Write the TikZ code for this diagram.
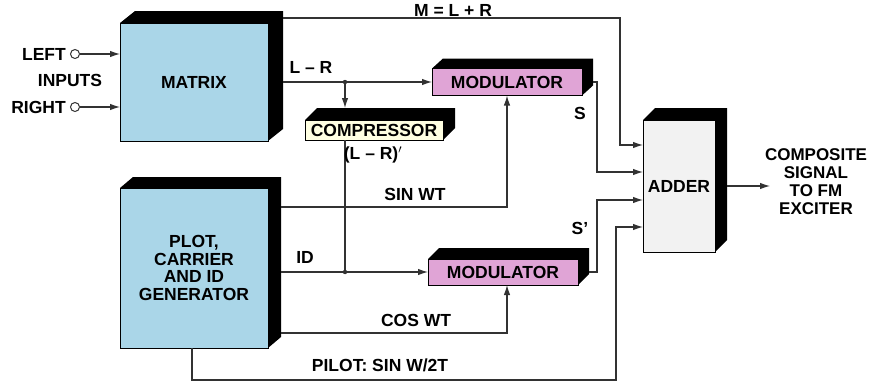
\documentclass[tikz,border=0pt]{standalone}
\usepackage{fontspec}
\setmainfont{Liberation Sans}
\usetikzlibrary{arrows.meta,calc,backgrounds}
\definecolor{blueface}{RGB}{170,214,232}
\definecolor{pinkface}{RGB}{224,164,214}
\definecolor{yelface}{RGB}{255,255,226}
\definecolor{greyface}{RGB}{242,242,242}
\definecolor{wire}{RGB}{50,50,50}
\newcommand\boxthreed[3]{%
  \fill[black] (#1.north west) -- ++(#2,-#3) -- ($(#1.north east)+(#2,-#3)$)
    -- ($(#1.south east)+(#2,-#3)$) -- (#1.south east) -- cycle;}
\begin{document}
\begin{tikzpicture}[x=1pt,y=-1pt,
  every node/.style={font=\bfseries\fontsize{17.5}{17.5}\selectfont},
  face/.style={draw=black, line width=0.8pt, inner sep=0pt, outer sep=0pt, align=center},
  lbl/.style={inner sep=0pt, align=center},
  wirel/.style={draw=wire, line width=1.1pt},
  arr/.style={wirel, -{Latex[length=10pt,width=6.5pt]}},
  incirc/.style={circle, draw=wire, line width=1pt, minimum size=9pt, inner sep=0pt}]
\useasboundingbox (0,0) rectangle (875,389);
% boxes
\node[face, fill=blueface, minimum width=148pt, minimum height=118pt] (matrix) at (194,82) {MATRIX};
\node[face, fill=blueface, minimum width=148pt, minimum height=160pt] (gen) at (194,268) {PLOT,\\CARRIER\\AND ID\\GENERATOR};
\node[face, fill=pinkface, minimum width=150pt, minimum height=27pt] (mod1) at (507,82) {MODULATOR};
\node[face, fill=pinkface, minimum width=150pt, minimum height=26pt] (mod2) at (503,272) {MODULATOR};
\node[face, fill=yelface, minimum width=138pt, minimum height=20pt] (comp) at (374,130) {COMPRESSOR};
\node[face, fill=greyface, minimum width=72pt, minimum height=132pt] (adder) at (679,186) {ADDER};
\begin{scope}[on background layer]
  \boxthreed{matrix}{15}{12}
  \boxthreed{gen}{13}{11}
  \boxthreed{mod1}{11}{10}
  \boxthreed{mod2}{11}{11}
  \boxthreed{comp}{12}{12}
  \boxthreed{adder}{12}{12}
\end{scope}
% inputs
\node[incirc] (lin) at (75,54) {};
\node[incirc] (rin) at (75,107) {};
\node[lbl, anchor=east] (lefttxt) at (66,54) {LEFT};
\node[lbl, anchor=east] (righttxt) at (66,107) {RIGHT};
\node[lbl] (inputs) at (70,80) {INPUTS};
\draw[arr] (lin.east) -- (matrix.west |- lin);
\draw[arr] (rin.east) -- (matrix.west |- rin);
% coordinates
\coordinate (mstart) at ([xshift=15pt]matrix.east |- 0,18);
\coordinate (j1) at (345,82);
\coordinate (j2) at (345,272);
\coordinate (comptop) at ([yshift=12pt]comp.north);
\coordinate (g1) at ([xshift=13pt]gen.east |- 0,207);
\coordinate (g2) at ([xshift=13pt]gen.east |- 0,272);
\coordinate (g3) at ([xshift=13pt]gen.east |- 0,333);
\coordinate (a1) at (adder.west |- 0,145);
\coordinate (a2) at (adder.west |- 0,172);
\coordinate (a3) at (adder.west |- 0,200);
\coordinate (a4) at (adder.west |- 0,227);
\coordinate (mbend) at (620,18);
\coordinate (sbus) at (597,0);
\coordinate (pbend) at (616,380);
\coordinate (outend) at (770,186);
% connectors
\draw[arr] (mstart) -| (mbend |- a1) -- (a1);
\draw[arr] ([xshift=15pt]matrix.east) -- (mod1.west);
\draw[arr] (j1) -- (j1 |- comptop);
\draw[wirel] (comp.south -| j1) -- (j2);
\draw[arr] (g1) -| (mod1.south);
\draw[arr] (g2) -- (mod2.west);
\draw[arr] (g3) -| ([xshift=4pt]mod2.south);
\draw[arr] (gen.south -| 192,0) -- (pbend -| 192,0) -- (pbend) -- (pbend |- a4) -- (a4);
\draw[arr] ([xshift=11pt]mod1.east) -- (sbus |- mod1.east) |- (a2);
\draw[arr] ([xshift=11pt]mod2.east) -- (sbus |- mod2.east) |- (a3);
\draw[arr] ([xshift=12pt]adder.east) -- (outend);
\fill[wire] (j1) circle (2.2pt);
\fill[wire] (j2) circle (2.2pt);
% labels
\node[lbl] (mlbl) at (453,10) {M = L + R};
\node[lbl] (lrlbl) at (311,67) {L – R};
\node[lbl] (lrplbl) at (373,155) {(L – R)$'$};
\node[lbl] (sinlbl) at (415,194) {SIN WT};
\node[lbl] (idlbl) at (305,257) {ID};
\node[lbl] (coslbl) at (416,320) {COS WT};
\node[lbl] (pillbl) at (380,365) {PILOT: SIN W/2T};
\node[lbl] (slbl) at (580,113) {S};
\node[lbl] (splbl) at (580,228) {S'};
\node[lbl, font=\bfseries\fontsize{17}{18}\selectfont] (outlbl) at (816,182) {COMPOSITE\\SIGNAL\\TO FM\\EXCITER};
\end{tikzpicture}
\end{document}
